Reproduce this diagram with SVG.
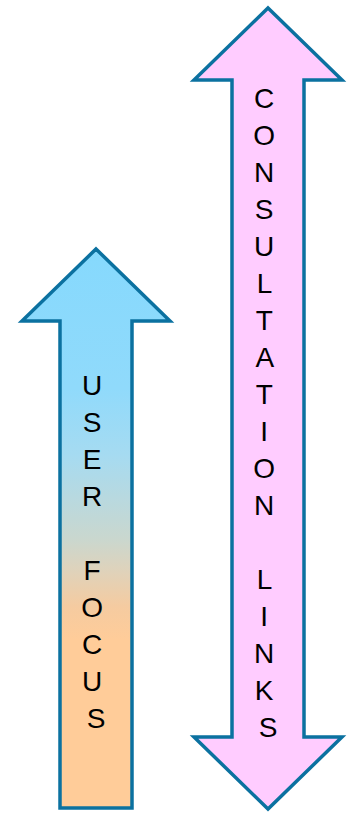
<svg xmlns="http://www.w3.org/2000/svg" width="352" height="813" viewBox="0 0 352 813">
  <style>
    .arrow { stroke: #0B71A0; stroke-width: 3.5; stroke-linejoin: miter; }
    .lbl { font-family: "Liberation Sans", Arial, sans-serif; font-size: 28px; fill: #000; text-anchor: middle; }
  </style>
  <defs>
    <linearGradient id="userGrad" x1="0" y1="0" x2="0" y2="1">
      <stop offset="0" stop-color="#86D9FD"/>
      <stop offset="0.25" stop-color="#90DAFB"/>
      <stop offset="0.37" stop-color="#A6DBF1"/>
      <stop offset="0.52" stop-color="#CAD7CE"/>
      <stop offset="0.57" stop-color="#DDD3BD"/>
      <stop offset="0.64" stop-color="#F5CBA0"/>
      <stop offset="0.70" stop-color="#FFCC99"/>
      <stop offset="1" stop-color="#FFCC99"/>
    </linearGradient>
  </defs>
  <g id="user-focus">
    <path class="arrow" fill="url(#userGrad)" d="M96,249 L170,321 L132,321 L132,808 L60,808 L60,321 L22,321 Z"/>
    <text class="lbl">
      <tspan x="96" y="394.7">U</tspan>
      <tspan x="96" y="431.7">S</tspan>
      <tspan x="96" y="468.7">E</tspan>
      <tspan x="96" y="505.7">R</tspan>
      <tspan x="96" y="579.7">F</tspan>
      <tspan x="96" y="616.7">O</tspan>
      <tspan x="96" y="653.7">C</tspan>
      <tspan x="96" y="690.7">U</tspan>
      <tspan x="96" y="727.7">S</tspan>
    </text>
  </g>
  <g id="consultation-links">
    <path class="arrow" fill="#FFCCFF" d="M268,8 L342,80 L304,80 L304,737 L342,737 L268,809 L194,737 L232,737 L232,80 L194,80 Z"/>
    <text class="lbl">
      <tspan x="268" y="107.5">C</tspan>
      <tspan x="268" y="144.5">O</tspan>
      <tspan x="268" y="181.5">N</tspan>
      <tspan x="268" y="218.5">S</tspan>
      <tspan x="268" y="255.5">U</tspan>
      <tspan x="268" y="292.5">L</tspan>
      <tspan x="268" y="329.5">T</tspan>
      <tspan x="268" y="366.5">A</tspan>
      <tspan x="268" y="403.5">T</tspan>
      <tspan x="268" y="440.5">I</tspan>
      <tspan x="268" y="477.5">O</tspan>
      <tspan x="268" y="514.5">N</tspan>
      <tspan x="268" y="588.5">L</tspan>
      <tspan x="268" y="625.5">I</tspan>
      <tspan x="268" y="662.5">N</tspan>
      <tspan x="268" y="699.5">K</tspan>
      <tspan x="268" y="736.5">S</tspan>
    </text>
  </g>
  <g id="connectors"/>
</svg>
